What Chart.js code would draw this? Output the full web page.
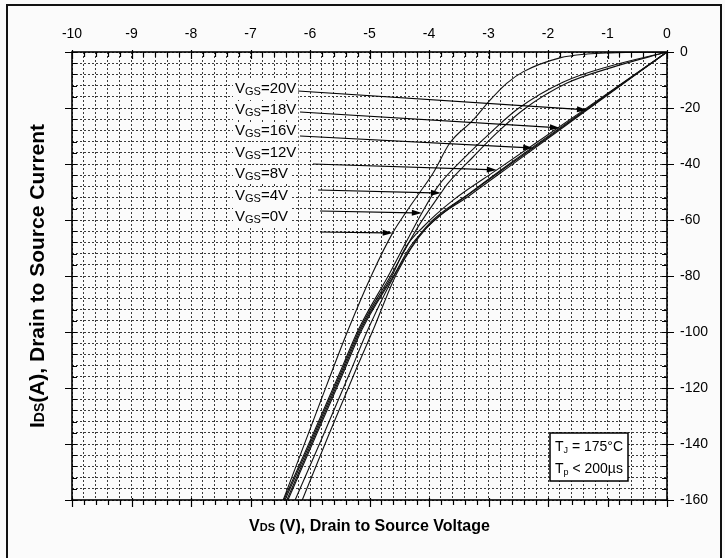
<!DOCTYPE html>
<html>
<head>
<meta charset="utf-8">
<script src="https://cdn.jsdelivr.net/npm/chart.js@4.4.0/dist/chart.umd.min.js"></script>
<style>
  html, body { margin: 0; padding: 0; background: #fafafa; }
  #wrap { position: relative; width: 725px; height: 558px; overflow: hidden; }
  #frame { position: absolute; left: 6px; top: 4px; width: 716px; height: 570px;
           border: 2px solid #111; box-sizing: border-box; background: #fbfbfb; }
  canvas { position: absolute; left: 0; top: 0; }
</style>
</head>
<body>
<div id="wrap">
  <div id="frame"></div>
  <canvas id="chart" width="725" height="558"></canvas>
</div>
<script>
// third-quadrant output curves, one pair of arrays per gate voltage (V, A)
const vgsValues = ['20V', '18V', '16V', '12V', '8V', '4V', '0V'];

const vdsVgs20 = [-6.13, -5.70, -5.23, -4.94, -4.54, -4.05, -3.30, -2.50, -1.345, 0];
const idsVgs20 = [-160, -137.5, -113.6, -99.3, -79, -63, -51, -38.6, -20.7, 0];

const vdsVgs18 = [-6.25, -5.79, -5.31, -5.03, -4.56, -4.05, -3.30, -2.60, -1.80, 0];
const idsVgs18 = [-160, -137.5, -113.6, -99.3, -79, -62.5, -50.2, -39.2, -27.1, 0];

const vdsVgs16 = [-6.37, -5.91, -5.42, -5.13, -4.57, -4.30, -3.90, -3.20, -2.25, -1.00, 0];
const idsVgs16 = [-160, -137.5, -113.6, -99.3, -79, -69, -60, -48.8, -34.3, -15.2, 0];

const vdsVgs12 = [-6.39, -5.93, -5.44, -5.15, -4.60, -4.40, -4.10, -3.60, -2.86, -1.50, 0];
const idsVgs12 = [-160, -137.5, -113.6, -99.3, -79, -70, -62.5, -53, -42.1, -22.2, 0];

const vdsVgs8 = [-6.42, -5.95, -5.46, -5.17, -4.62, -4.20, -3.80, -3.70, -3.26, -2.86, -2.42, -1.68, -0.91, 0];
const idsVgs8 = [-160, -137.5, -113.6, -99.3, -79, -63, -50.4, -47.4, -37.5, -28.9, -20.7, -11.1, -5.4, 0];

const vdsVgs4 = [-6.44, -5.97, -5.48, -5.19, -4.66, -4.40, -4.12, -3.85, -3.37, -2.95, -2.50, -1.75, -0.95, 0];
const idsVgs4 = [-160, -137.5, -113.6, -99.3, -79, -68.5, -57.5, -48, -37, -28.5, -20.2, -10.8, -5, 0];

const vdsVgs0 = [-6.45, -5.88, -5.36, -4.95, -4.61, -4.38, -4.15, -3.93, -3.65, -3.26, -2.97, -2.69, -2.42, -1.80, -1.34, -0.96, 0];
const idsVgs0 = [-160, -128, -99.3, -79, -64.6, -57, -50, -43.2, -32.5, -24.3, -17.1, -11.1, -7.1, -2.1, -0.7, -0.3, 0];

// where each VGS arrow lands on its curve
const arrowTipVds = [-1.345, -1.80, -2.25, -2.86, -3.80, -4.12, -4.61];
const arrowTipIds = [-20.7, -27.1, -34.3, -42.1, -50.4, -57.5, -64.6];

const xTickLabels = ['-10', '-9', '-8', '-7', '-6', '-5', '-4', '-3', '-2', '-1', '0'];
const yTickLabels = ['0', '-20', '-40', '-60', '-80', '-100', '-120', '-140', '-160'];

const curves = [
  [vdsVgs20, idsVgs20], [vdsVgs18, idsVgs18], [vdsVgs16, idsVgs16], [vdsVgs12, idsVgs12],
  [vdsVgs8, idsVgs8], [vdsVgs4, idsVgs4], [vdsVgs0, idsVgs0]
];

const datasets = curves.map(([vx, iy], k) => ({
  label: 'VGS=' + vgsValues[k],
  data: vx.map((v, i) => ({ x: v, y: iy[i] })),
  borderColor: '#111',
  borderWidth: 1.1,
  pointRadius: 0,
  fill: false,
  cubicInterpolationMode: 'monotone'
}));

const FONT = "'Liberation Sans', Arial, sans-serif";

function isWhole(v) { return Math.abs(v - Math.round(v)) < 1e-6; }

// text with smaller subscript runs: parts = [[text, size, dy, bold]]
function drawRuns(ctx, parts, x, y) {
  let cx = x;
  parts.forEach(([t, size, dy, bold]) => {
    ctx.font = (bold ? 'bold ' : '') + size + 'px ' + FONT;
    ctx.fillText(t, cx, y + dy);
    cx += ctx.measureText(t).width;
  });
  return cx - x;
}
function runsWidth(ctx, parts) {
  let w = 0;
  parts.forEach(([t, size, dy, bold]) => {
    ctx.font = (bold ? 'bold ' : '') + size + 'px ' + FONT;
    w += ctx.measureText(t).width;
  });
  return w;
}

// solid plot border with minor/major tick marks
const axisFrame = {
  id: 'axisFrame',
  afterDatasetsDraw(chart) {
    const { ctx, chartArea: a, scales: { x, y } } = chart;
    ctx.save();
    ctx.strokeStyle = '#000';
    ctx.lineWidth = 1.6;
    ctx.strokeRect(a.left, a.top, a.right - a.left, a.bottom - a.top);
    ctx.lineWidth = 1.2;
    ctx.beginPath();
    for (let i = 0; i <= 50; i++) {
      const px = Math.round(x.getPixelForValue(-10 + i * 0.2)) + 0.5;
      const major = i % 5 === 0;
      ctx.moveTo(px, a.top - (major ? 2 : 0)); ctx.lineTo(px, a.top + (major ? 7 : 5));
      ctx.moveTo(px, a.bottom - (major ? 2 : 0)); ctx.lineTo(px, a.bottom + (major ? 7 : 5));
    }
    for (let i = 0; i <= 40; i++) {
      const py = Math.round(y.getPixelForValue(-i * 4)) + 0.5;
      const major = i % 5 === 0;
      ctx.moveTo(a.left - (major ? 7 : 0), py); ctx.lineTo(a.left + 5, py);
      ctx.moveTo(a.right - 5, py); ctx.lineTo(a.right + (major ? 7 : 0), py);
    }
    ctx.stroke();
    ctx.restore();
  }
};

const annotations = {
  id: 'annotations',
  afterDraw(chart) {
    const { ctx, chartArea: a, scales: { x, y } } = chart;
    ctx.save();
    ctx.fillStyle = '#000';
    ctx.strokeStyle = '#000';
    ctx.textBaseline = 'middle';

    // VGS labels and their arrows
    const labelX = 235;
    const labelY = [89, 110, 131, 153, 174, 196, 217];
    const tail = [[298, 91], [300, 112], [300, 136], [313, 164], [318, 190], [320, 211], [320, 232]];
    vgsValues.forEach((g, k) => {
      const runs = [['V', 15, 0], ['GS', 11, 3], ['=' + g, 15, 0]];
      const w = runsWidth(ctx, runs);
      ctx.fillStyle = '#fbfbfb';
      ctx.fillRect(labelX - 2, labelY[k] - 9, w + 4, 19);
      ctx.fillStyle = '#000';
      drawRuns(ctx, runs, labelX, labelY[k]);

      const tx = x.getPixelForValue(arrowTipVds[k]);
      const ty = y.getPixelForValue(arrowTipIds[k]);
      const [sx, sy] = tail[k];
      const ang = Math.atan2(ty - sy, tx - sx);
      ctx.lineWidth = 1.2;
      ctx.beginPath();
      ctx.moveTo(sx, sy);
      ctx.lineTo(tx - 8 * Math.cos(ang), ty - 8 * Math.sin(ang));
      ctx.stroke();
      ctx.beginPath();
      ctx.moveTo(tx, ty);
      ctx.lineTo(tx - 10 * Math.cos(ang) + 3 * Math.sin(ang), ty - 10 * Math.sin(ang) - 3 * Math.cos(ang));
      ctx.lineTo(tx - 10 * Math.cos(ang) - 3 * Math.sin(ang), ty - 10 * Math.sin(ang) + 3 * Math.cos(ang));
      ctx.closePath();
      ctx.fill();
    });

    // test-condition box
    ctx.fillStyle = '#fff';
    ctx.fillRect(550, 433, 78, 48);
    ctx.lineWidth = 1.5;
    ctx.strokeRect(550, 433, 78, 48);
    ctx.fillStyle = '#000';
    drawRuns(ctx, [['T', 14, 0], ['J', 9, 4], [' = 175°C', 14, 0]], 555, 447);
    drawRuns(ctx, [['T', 14, 0], ['p', 9, 4], [' < 200µs', 14, 0]], 555, 469);

    // axis titles
    const xt = [['V', 16, 0, true], ['DS', 11, 1, true], [' (V), Drain to Source Voltage', 16, 0, true]];
    const xw = runsWidth(ctx, xt);
    drawRuns(ctx, xt, (a.left + a.right) / 2 - xw / 2, 527);

    ctx.save();
    ctx.translate(38, (a.top + a.bottom) / 2);
    ctx.rotate(-Math.PI / 2);
    const yt = [['I', 21, 0, true], ['DS', 14, 2, true], ['(A), Drain to Source Current', 21, 0, true]];
    const yw = runsWidth(ctx, yt);
    drawRuns(ctx, yt, -yw / 2, 0);
    ctx.restore();

    ctx.restore();
  }
};

new Chart(document.getElementById('chart'), {
  type: 'line',
  data: { datasets },
  options: {
    responsive: false,
    animation: false,
    layout: { padding: { left: 72, top: 0, right: 0, bottom: 58 } },
    plugins: { legend: { display: false }, tooltip: { enabled: false } },
    scales: {
      x: {
        type: 'linear', position: 'top', min: -10, max: 0,
        afterFit(s) { s.height = 52; },
        ticks: {
          stepSize: 0.2, autoSkip: false, maxRotation: 0, padding: 9,
          color: '#000', font: { family: FONT, size: 14 },
          callback: v => isWhole(v) ? xTickLabels[Math.round(v) + 10] : ''
        },
        grid: { color: '#3a3a3a', lineWidth: 1, drawTicks: false },
        border: { display: false, dash: [2, 2] }
      },
      y: {
        type: 'linear', position: 'right', min: -160, max: 0,
        afterFit(s) { s.width = 58; },
        ticks: {
          stepSize: 4, autoSkip: false, padding: 13,
          color: '#000', font: { family: FONT, size: 14 },
          callback: v => (Math.round(v) % 20 === 0) ? yTickLabels[Math.round(-v / 20)] : ''
        },
        grid: { color: '#3a3a3a', lineWidth: 1, drawTicks: false },
        border: { display: false, dash: [2, 2] }
      }
    }
  },
  plugins: [axisFrame, annotations]
});
</script>
</body>
</html>
